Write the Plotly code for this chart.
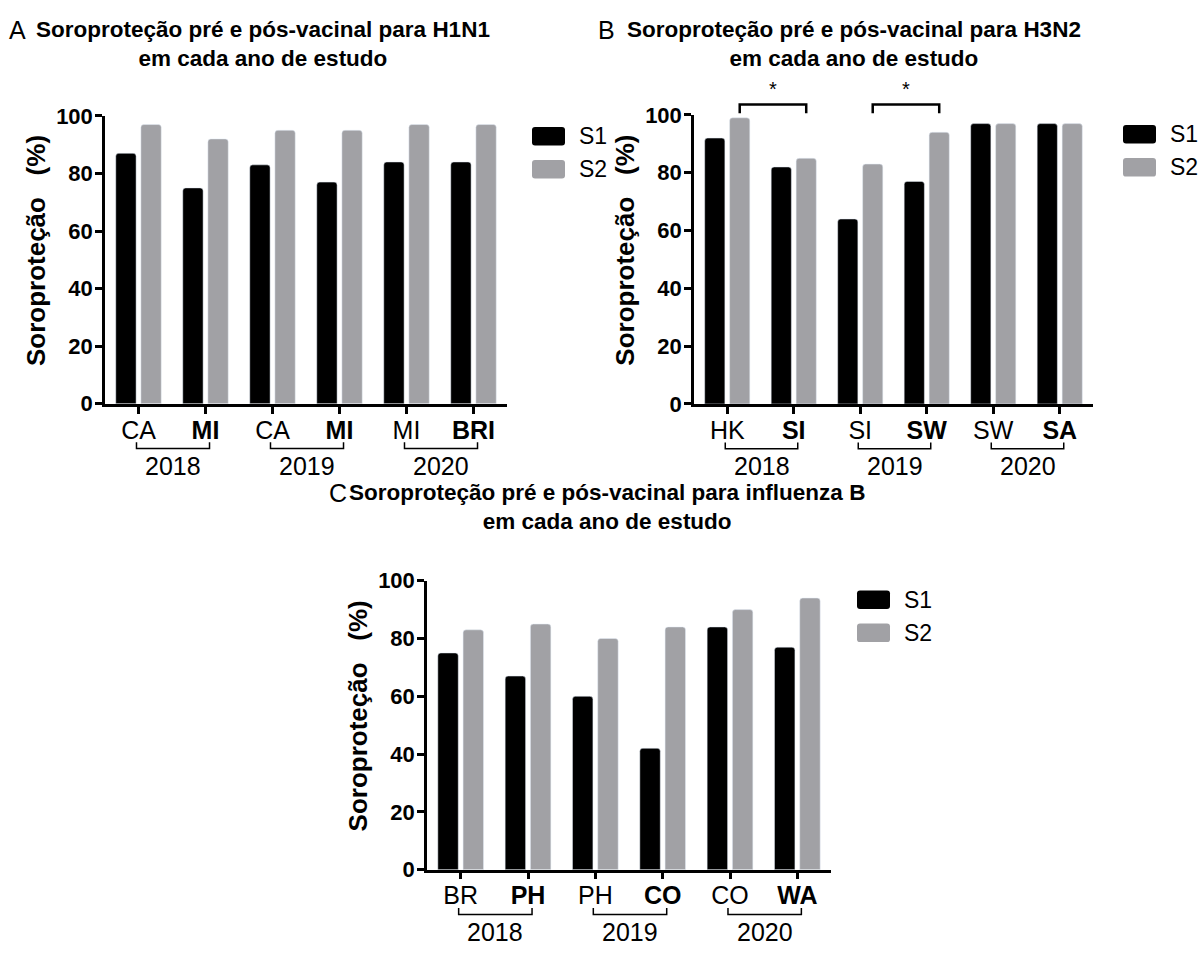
import plotly.graph_objects as go

# ---- data -------------------------------------------------------------
years = ["2018", "2019", "2020"]

h1n1_strains = ["CA", "MI", "CA", "MI", "MI", "BRI"]
h1n1_s1 = [87, 75, 83, 77, 84, 84]
h1n1_s2 = [97, 92, 95, 95, 97, 97]

h3n2_strains = ["HK", "SI", "SI", "SW", "SW", "SA"]
h3n2_s1 = [92, 82, 64, 77, 97, 97]
h3n2_s2 = [99, 85, 83, 94, 97, 97]

flub_strains = ["BR", "PH", "PH", "CO", "CO", "WA"]
flub_s1 = [75, 67, 60, 42, 84, 77]
flub_s2 = [83, 85, 80, 84, 90, 94]

# significant S2 comparisons in the H3N2 panel (pairs of category indices)
h3n2_sig_pairs = [(0, 1), (2, 3)]

Y_TITLE = "Soroproteção   (%)"

# ---- style ------------------------------------------------------------
W, H = 1200, 955
FONT = "Liberation Sans, Arial, sans-serif"
C_S1 = "#000000"
C_S2 = "#a1a1a5"
BARGAP, GROUPGAP = 0.25, 0.19
S2_OFFSET = (1 - BARGAP) / 4  # centre of the second bar within a group


def fx(px):
    return px / W


def fy(px):
    return 1 - px / H


panels = [
    dict(key="A", strains=h1n1_strains, s1=h1n1_s1, s2=h1n1_s2,
         title="Soroproteção pré e pós-vacinal para H1N1",
         xdom=(105, 507), ytop=106.7, ybot=402.3,
         letter_x=7, title_cx=263, title_y=3,
         leg_x=532, leg_y=118),
    dict(key="B", strains=h3n2_strains, s1=h3n2_s1, s2=h3n2_s2,
         title="Soroproteção pré e pós-vacinal para H3N2",
         xdom=(694, 1093), ytop=105.7, ybot=402.5,
         letter_x=596, title_cx=854, title_y=3,
         leg_x=1123, leg_y=116),
    dict(key="C", strains=flub_strains, s1=flub_s1, s2=flub_s2,
         title="Soroproteção pré e pós-vacinal para influenza B",
         xdom=(427, 831), ytop=584, ybot=880.7,
         letter_x=327, title_cx=607, title_y=479,
         leg_x=857, leg_y=594),
]

fig = go.Figure()
shapes, annotations = [], []

for i, p in enumerate(panels):
    n = "" if i == 0 else str(i + 1)
    xa, ya = "x" + n, "y" + n
    xs = list(range(len(p["strains"])))

    fig.add_trace(go.Bar(x=xs, y=p["s1"], name="S1", marker_color=C_S1,
                         marker_cornerradius=3, xaxis=xa, yaxis=ya,
                         showlegend=False))
    fig.add_trace(go.Bar(x=xs, y=p["s2"], name="S2", marker_color=C_S2,
                         marker_cornerradius=3, xaxis=xa, yaxis=ya,
                         showlegend=False))

    ticktext = [s if k % 2 == 0 else f"<b>{s}</b>" for k, s in enumerate(p["strains"])]
    fig.layout["xaxis" + n] = dict(
        domain=[fx(p["xdom"][0]), fx(p["xdom"][1])], anchor=ya,
        range=[-0.5, 5.5], tickvals=xs, ticktext=ticktext,
        showline=True, linecolor="black", linewidth=2.5,
        ticks="outside", ticklen=7, tickwidth=2.5, tickcolor="black",
        ticklabelstandoff=-5,
        tickfont=dict(family=FONT, size=25, color="black"),
        showgrid=False, zeroline=False, fixedrange=True)
    fig.layout["yaxis" + n] = dict(
        domain=[fy(p["ybot"]), fy(p["ytop"])], anchor=xa,
        range=[0, 100], tickvals=[0, 20, 40, 60, 80, 100],
        showline=True, linecolor="black", linewidth=2.5,
        ticks="outside", ticklen=7, tickwidth=2.5, tickcolor="black",
        ticklabelstandoff=-2,
        tickfont=dict(family=FONT, size=22, color="black", weight="bold"),
        showgrid=False, zeroline=False, fixedrange=True)

    # y-axis title
    annotations.append(dict(text=f"<b>{Y_TITLE}</b>", textangle=-90,
                            x=fx(p["xdom"][0] - 69),
                            y=fy((p["ytop"] + p["ybot"]) / 2 - 9),
                            xref="paper", yref="paper", xanchor="center",
                            yanchor="middle", showarrow=False,
                            font=dict(family=FONT, size=26, color="black")))

    # year brackets under each pair of strains
    for g, yr in enumerate(years):
        a, b = 2 * g - 0.03, 2 * g + 1 + 0.06
        yb = p["ybot"] + 46
        yt = p["ybot"] + 39.5
        shapes.append(dict(type="path", xref=xa, yref="paper",
                           path=f"M {a},{fy(yt)} L {a},{fy(yb)} L {b},{fy(yb)} L {b},{fy(yt)}",
                           line=dict(color="black", width=1.5)))
        annotations.append(dict(text=yr, x=(a + b) / 2, xref=xa,
                                y=fy(p["ybot"] + 64), yref="paper",
                                showarrow=False, yanchor="middle",
                                font=dict(family=FONT, size=25, color="black")))

    # panel letter and title
    annotations.append(dict(text=p["key"], x=fx(p["letter_x"]), y=fy(p["title_y"] - 1),
                            xref="paper", yref="paper", xanchor="left", yanchor="top",
                            showarrow=False,
                            font=dict(family=FONT, size=25, color="black")))
    annotations.append(dict(text=f"<b>{p['title']}<br>em cada ano de estudo</b>",
                            x=fx(p["title_cx"]), y=fy(p["title_y"]),
                            xref="paper", yref="paper", xanchor="center", yanchor="top",
                            showarrow=False, align="center",
                            font=dict(family=FONT, size=22.5, color="black")))

    # legend swatches
    for r, (lab, col) in enumerate([("S1", C_S1), ("S2", C_S2)]):
        x0, x1 = p["leg_x"], p["leg_x"] + 33
        y0 = p["leg_y"] + r * 34
        y1 = y0 + 19
        rr = 3
        path = (f"M {fx(x0 + rr)},{fy(y0)} L {fx(x1 - rr)},{fy(y0)} "
                f"Q {fx(x1)},{fy(y0)} {fx(x1)},{fy(y0 + rr)} "
                f"L {fx(x1)},{fy(y1 - rr)} Q {fx(x1)},{fy(y1)} {fx(x1 - rr)},{fy(y1)} "
                f"L {fx(x0 + rr)},{fy(y1)} Q {fx(x0)},{fy(y1)} {fx(x0)},{fy(y1 - rr)} "
                f"L {fx(x0)},{fy(y0 + rr)} Q {fx(x0)},{fy(y0)} {fx(x0 + rr)},{fy(y0)} Z")
        shapes.append(dict(type="path", xref="paper", yref="paper", path=path,
                           fillcolor=col, line=dict(width=0)))
        annotations.append(dict(text=lab, x=fx(x1 + 12), y=fy((y0 + y1) / 2),
                                xref="paper", yref="paper", xanchor="left",
                                yanchor="middle", showarrow=False,
                                font=dict(family=FONT, size=23, color="black")))

# significance brackets between S2 bars of the H3N2 panel
for a, b in h3n2_sig_pairs:
    xa0, xa1 = a + S2_OFFSET, b + S2_OFFSET
    top, leg = 103.6, 100.6
    shapes.append(dict(type="path", xref="x2", yref="y2 domain",
                       path=f"M {xa0},{leg / 100} L {xa0},{top / 100} "
                            f"L {xa1},{top / 100} L {xa1},{leg / 100}",
                       line=dict(color="black", width=2.5)))
    annotations.append(dict(text="*", x=(xa0 + xa1) / 2, xref="x2",
                            y=top / 100, yref="y2 domain", yanchor="bottom",
                            yshift=3, showarrow=False,
                            font=dict(family=FONT, size=20, color="black")))

fig.update_layout(
    width=W, height=H, margin=dict(l=0, r=0, t=0, b=0),
    paper_bgcolor="white", plot_bgcolor="white",
    barmode="group", bargap=BARGAP, bargroupgap=GROUPGAP,
    shapes=shapes, annotations=annotations, showlegend=False,
    font=dict(family=FONT, color="black"),
)

fig.write_html("out.html")
